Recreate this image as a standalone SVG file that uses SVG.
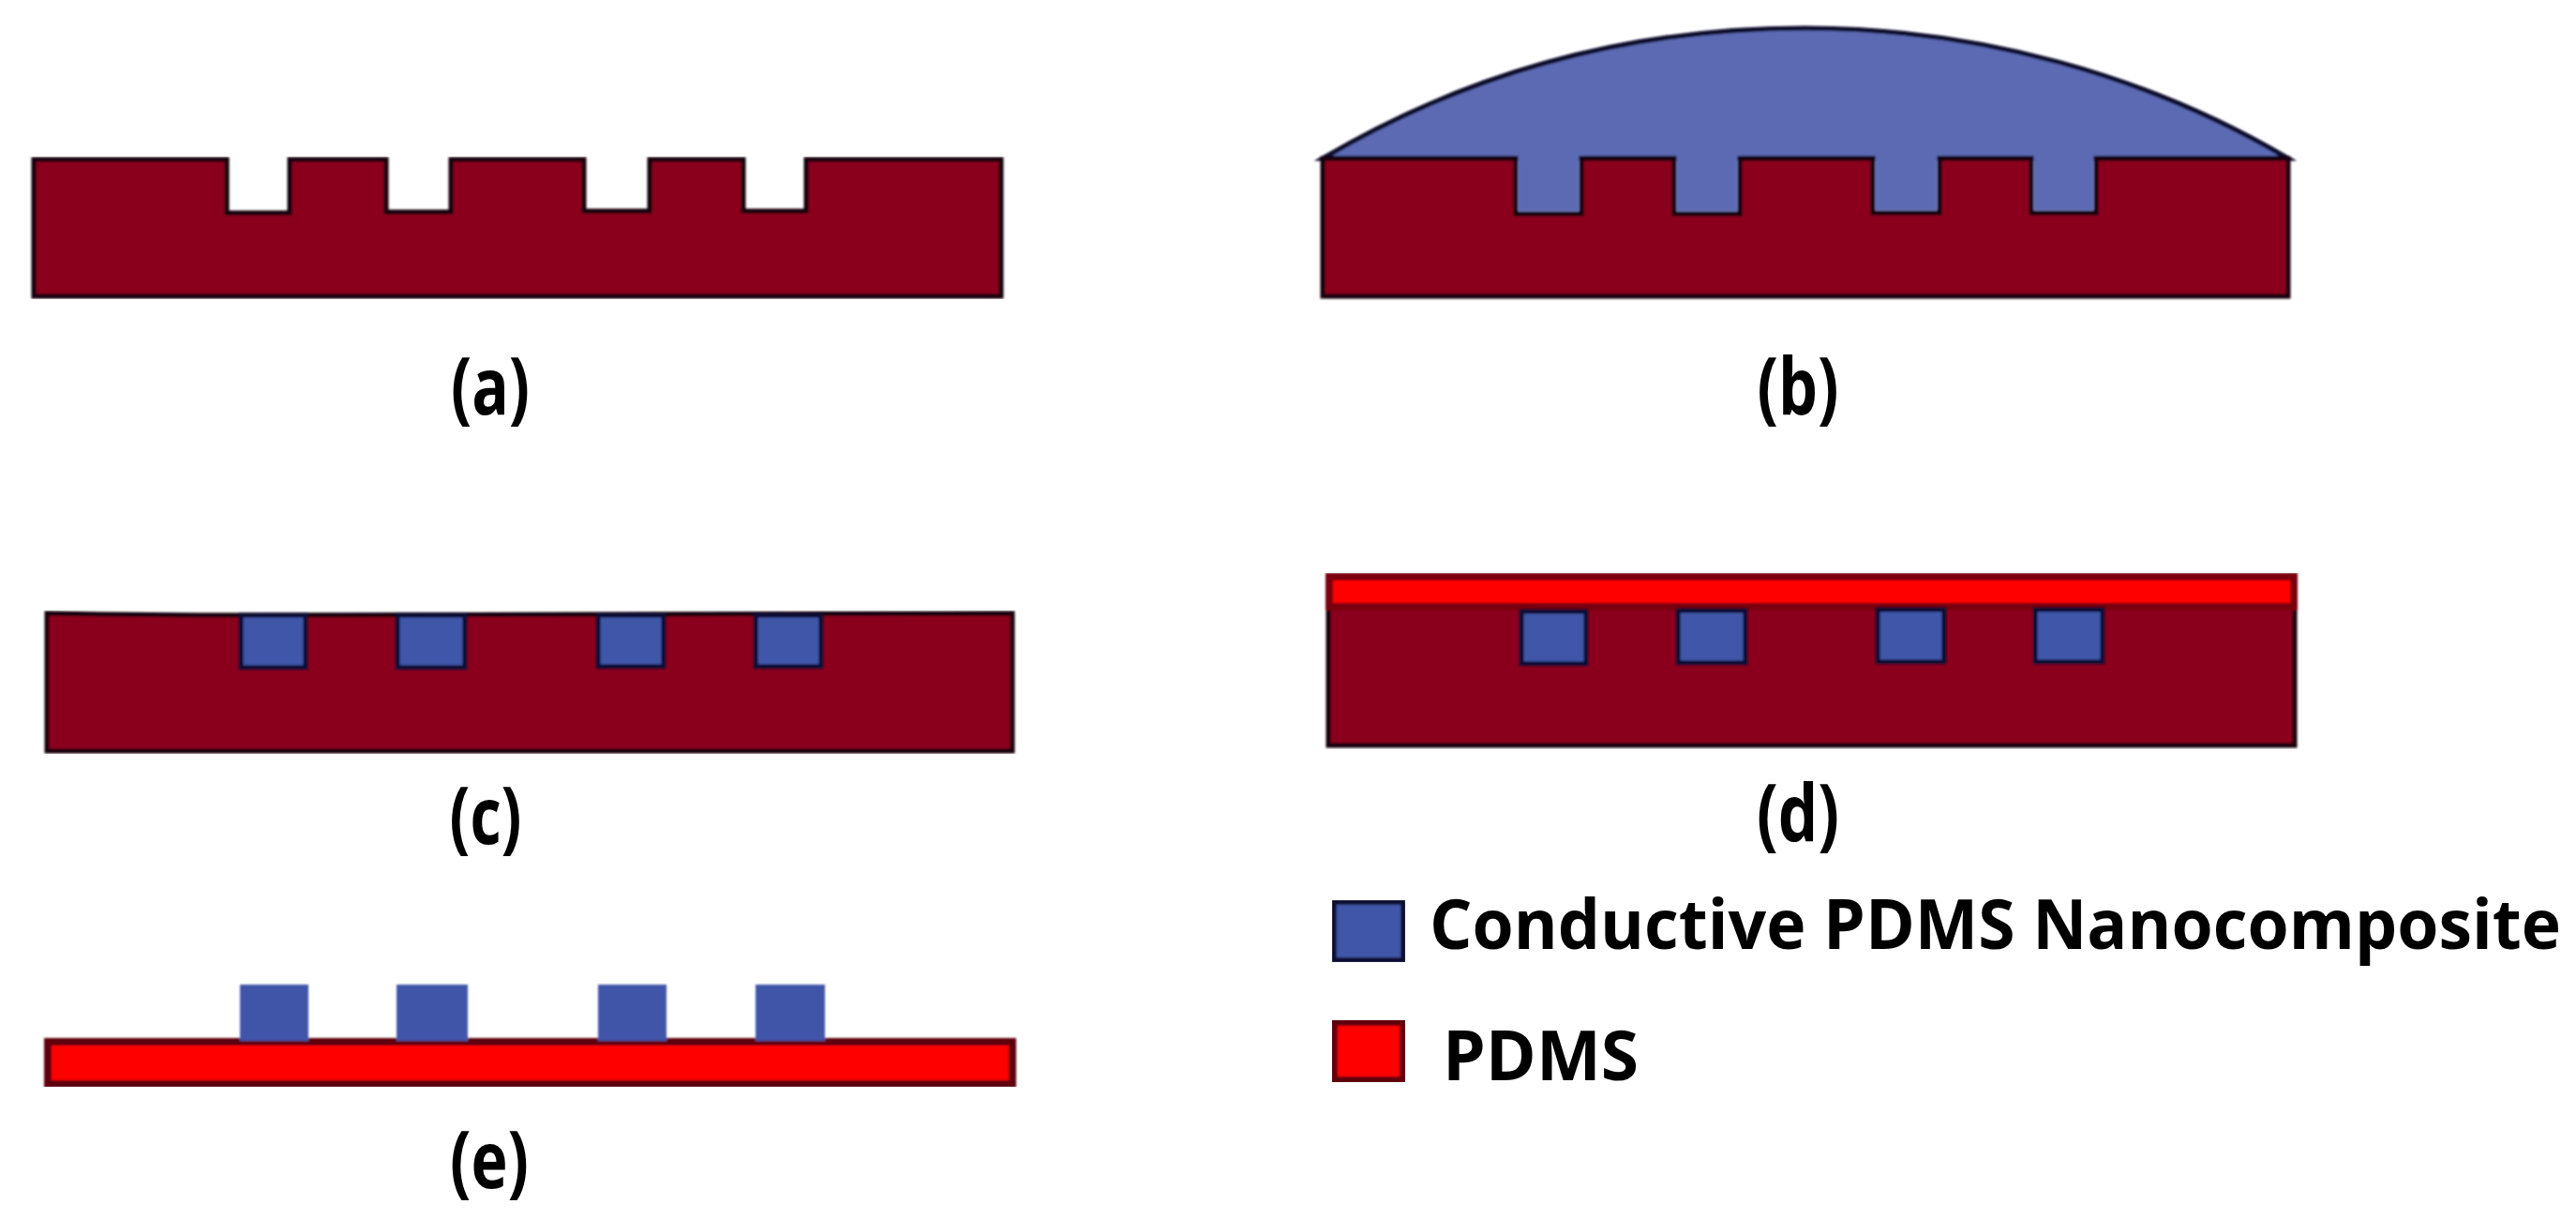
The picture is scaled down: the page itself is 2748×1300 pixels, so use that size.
<svg xmlns="http://www.w3.org/2000/svg" width="2748" height="1300" viewBox="0 0 2748 1300">
<style>
.base{fill:#8a001b;stroke:#14000a;stroke-width:5;stroke-linejoin:miter}
.dome{fill:#5b6ab4;stroke:#07072c;stroke-width:5}
.fillb{fill:#5b6ab4;stroke:none}
.chip{fill:#3f57a8;stroke:#100830;stroke-width:5}
.chipe{fill:#3f55a8;stroke:none}
.pdms{fill:#ff0000;stroke:#5e0008;stroke-width:8}
.lab{font-family:"Open Sans","Noto Sans",sans-serif;font-weight:700;fill:#000;font-size:84px;text-anchor:middle}
.leg{font-family:"Open Sans","Noto Sans",sans-serif;font-weight:700;fill:#000;font-size:68px}
</style>
<defs><filter id="soft" x="-2%" y="-2%" width="104%" height="104%"><feGaussianBlur stdDeviation="1"/></filter></defs>
<rect width="2748" height="1300" fill="#fff"/>
<g id="panel-a" filter="url(#soft)">
<path class="base" d="M36 170H242V227H309V170H412V226H481V170H623V225H693V170H793V225H860V170H1068V316H36Z"/>
</g>
<g id="panel-b" filter="url(#soft)">
<path class="dome" d="M1411 169C1570 75 1740 30 1925 30C2110 30 2290 80 2441 169Z"/>
<path class="base" d="M1411 169H1617V228H1687V169H1786V228H1856V169H1998V227H2069V169H2167V227H2236V169H2441V316H1411Z"/>
<path class="fillb" d="M1619.500 160H1684.500V225.500H1619.500ZM1788.500 160H1853.500V225.500H1788.500ZM2000.500 160H2066.500V224.500H2000.500ZM2169.500 160H2233.500V224.500H2169.500Z"/>
</g>
<g id="panel-c" filter="url(#soft)">
<path class="base" d="M50 654Q170 656 257 656L1080 654V801H50Z"/>
<rect class="chip" x="257" y="656" width="69" height="56"/>
<rect class="chip" x="424" y="656" width="72" height="56"/>
<rect class="chip" x="638" y="656" width="70" height="55"/>
<rect class="chip" x="806" y="656" width="70" height="55"/>
</g>
<g id="panel-d" filter="url(#soft)">
<rect class="base" x="1417" y="647" width="1031" height="148"/>
<rect class="pdms" x="1418" y="615" width="1029" height="32" style="stroke:#7a0010"/>
<rect class="chip" x="1623" y="652" width="69" height="56"/>
<rect class="chip" x="1790" y="651" width="72" height="56"/>
<rect class="chip" x="2003" y="650" width="71" height="56"/>
<rect class="chip" x="2171" y="650" width="72" height="56"/>
</g>
<g id="panel-e" filter="url(#soft)">
<rect class="pdms" x="51" y="1111" width="1029" height="45"/>
<rect class="chipe" x="256" y="1050" width="73" height="60"/>
<rect class="chipe" x="423" y="1050" width="76" height="60"/>
<rect class="chipe" x="638" y="1050" width="73" height="60"/>
<rect class="chipe" x="806" y="1050" width="74" height="60"/>
</g>
<g id="labels">
<text class="lab" x="523" y="442" textLength="84" lengthAdjust="spacingAndGlyphs">(a)</text>
<text class="lab" x="1918" y="442" textLength="87" lengthAdjust="spacingAndGlyphs">(b)</text>
<text class="lab" x="518" y="900" textLength="77" lengthAdjust="spacingAndGlyphs">(c)</text>
<text class="lab" x="1918" y="897" textLength="88" lengthAdjust="spacingAndGlyphs">(d)</text>
<text class="lab" x="522" y="1267" textLength="84" lengthAdjust="spacingAndGlyphs">(e)</text>
</g>
<g id="legend-composite">
<rect class="chip" x="1423" y="962" width="74" height="62" filter="url(#soft)" style="stroke-width:6"/>
<text class="leg" transform="translate(1525 1012) scale(1 1.08)" x="0" y="0" textLength="1207" lengthAdjust="spacingAndGlyphs">Conductive PDMS Nanocomposite</text>
</g>
<g id="legend-pdms">
<rect class="pdms" x="1423" y="1090" width="74" height="62" filter="url(#soft)"/>
<text class="leg" transform="translate(1539 1152) scale(1 1.08)" x="0" y="0" textLength="209" lengthAdjust="spacingAndGlyphs">PDMS</text>
</g>
</svg>
